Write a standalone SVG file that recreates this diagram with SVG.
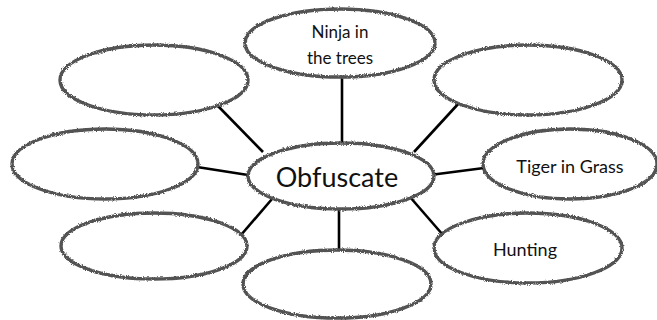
<svg xmlns="http://www.w3.org/2000/svg" width="657" height="320" viewBox="0 0 657 320">
  <style>
    .bubble { fill: #ffffff; stroke: #525252; stroke-width: 3.4; filter: url(#rough); }
    .spoke { stroke: #000000; stroke-width: 2.6; stroke-linecap: butt; fill: none; }
    .label { font-family: Lato, "Open Sans", "Liberation Sans", sans-serif; fill: #111111; text-anchor: middle; }
  </style>
  <defs>
    <!-- chalky, uneven pen outline for the bubbles -->
    <filter id="rough" x="-5%" y="-10%" width="110%" height="120%">
      <feTurbulence type="fractalNoise" baseFrequency="1.1" numOctaves="2" seed="3" result="noise"/>
      <feDisplacementMap in="SourceGraphic" in2="noise" scale="3.2" xChannelSelector="R" yChannelSelector="G"/>
    </filter>
  </defs>
  <rect width="657" height="320" fill="#ffffff"/>

  <!-- spokes from the hub to each bubble -->
  <g id="connectors">
    <line class="spoke" x1="342" y1="77" x2="342" y2="143"/>
    <line class="spoke" x1="218" y1="106" x2="263" y2="152"/>
    <line class="spoke" x1="197" y1="167" x2="248" y2="175"/>
    <line class="spoke" x1="272" y1="199" x2="241" y2="235"/>
    <line class="spoke" x1="339" y1="208" x2="339" y2="252"/>
    <line class="spoke" x1="410" y1="197" x2="443" y2="235"/>
    <line class="spoke" x1="430" y1="175" x2="484" y2="168"/>
    <line class="spoke" x1="459" y1="103" x2="414" y2="152"/>
  </g>

  <g id="node-top">
    <ellipse class="bubble" cx="340" cy="43" rx="95" ry="34"/>
    <text class="label" x="340" y="38" font-size="17">Ninja in</text>
    <text class="label" x="340" y="64" font-size="17">the trees</text>
  </g>
  <g id="node-upper-left">
    <ellipse class="bubble" cx="154" cy="80" rx="94" ry="35"/>
  </g>
  <g id="node-left">
    <ellipse class="bubble" cx="105" cy="164" rx="93" ry="35"/>
  </g>
  <g id="node-lower-left">
    <ellipse class="bubble" cx="154" cy="246" rx="93" ry="33"/>
  </g>
  <g id="node-bottom">
    <ellipse class="bubble" cx="337" cy="284" rx="94" ry="34"/>
  </g>
  <g id="node-upper-right">
    <ellipse class="bubble" cx="528" cy="80" rx="94" ry="35"/>
  </g>
  <g id="node-right">
    <ellipse class="bubble" cx="570" cy="164" rx="87" ry="35"/>
    <text class="label" x="570" y="173" font-size="18">Tiger in Grass</text>
  </g>
  <g id="node-lower-right">
    <ellipse class="bubble" cx="528" cy="248" rx="94" ry="35"/>
    <text class="label" x="525" y="256" font-size="18">Hunting</text>
  </g>
  <g id="node-hub">
    <ellipse class="bubble" cx="341" cy="176" rx="93" ry="33"/>
    <text class="label" x="337" y="187" font-size="27">Obfuscate</text>
  </g>
</svg>
